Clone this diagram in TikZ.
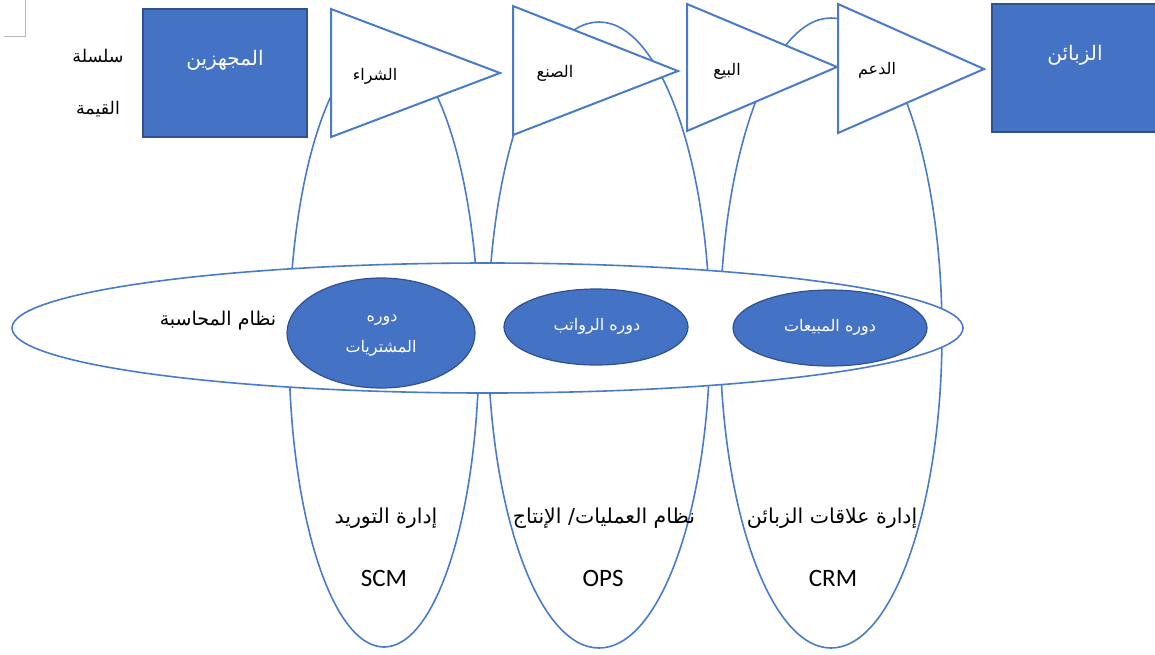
\documentclass[tikz,border=0pt]{standalone}
\usepackage{fontspec}
\setmainfont{Carlito}
\newfontfamily\arabicfont[Script=Arabic]{DejaVu Sans}
\TeXXeTstate=1
\usetikzlibrary{shapes.geometric}
\definecolor{accent}{HTML}{4472C4}
\definecolor{accentdark}{HTML}{2F528F}
\definecolor{outline}{HTML}{4A7BCB}
\definecolor{cornermark}{HTML}{B8B8B8}

\newcommand{\ar}[1]{{\arabicfont\beginR #1\endR}}

\tikzset{
  ring/.style={draw=outline, line width=1.6pt, fill=white},
  stagebox/.style={draw=outline, line width=2pt, fill=white, line join=miter},
  partybox/.style={draw=accentdark, line width=1.5pt, fill=accent},
  cyclebox/.style={draw=accentdark, line width=1.2pt, fill=accent},
  txt/.style={inner sep=0pt, font=\fontsize{19}{22}\selectfont, text=black},
  sidetxt/.style={inner sep=0pt, font=\fontsize{17.5}{20}\selectfont, text=black},
  bottomtxt/.style={inner sep=0pt, font=\fontsize{20.5}{24}\selectfont, text=black},
  stagetxt/.style={inner sep=0pt, font=\fontsize{16}{19}\selectfont, text=black},
  whitetxt/.style={inner sep=0pt, font=\fontsize{20}{23}\selectfont, text=white},
  cycletxt/.style={inner sep=0pt, font=\fontsize{16}{26}\selectfont, text=white, align=center},
  latintxt/.style={inner sep=0pt, font=\fontsize{25}{28}\selectfont, text=black}
}

\begin{document}
\begin{tikzpicture}[x=1pt, y=-1pt]
\useasboundingbox (0,0) rectangle (1155,654);

% corner mark
\draw[cornermark, line width=0.8pt] (4,36) -- (25,36) -- (25,0);

% three functional systems (tall loops)
\draw[ring] (384,346) ellipse [x radius=95pt, y radius=301pt];
\draw[ring] (599,335) ellipse [x radius=111pt, y radius=313pt];
\draw[ring] (831,333) ellipse [x radius=111pt, y radius=315pt];

% accounting system
\draw[ring] (487.5,328) ellipse [x radius=475.5pt, y radius=65pt];

% value chain stages
\draw[stagebox] (331,9) -- (500,73) -- (331,137) -- cycle;
\draw[stagebox] (513,6) -- (678,71) -- (513,135) -- cycle;
\draw[stagebox] (687,4) -- (837,67) -- (687,131) -- cycle;
\draw[stagebox] (838,4) -- (984,69) -- (838,133) -- cycle;

% suppliers and customers
\draw[partybox] (143,9) rectangle (307,137);
\draw[partybox] (992,4) rectangle (1162,132);

% accounting cycles
\draw[cyclebox] (381,333) ellipse [x radius=94pt, y radius=55pt];
\draw[cyclebox] (596,327) ellipse [x radius=92pt, y radius=38pt];
\draw[cyclebox] (830,328) ellipse [x radius=97pt, y radius=38pt];

% texts
\node[sidetxt] (vc1) at (98,56) {\ar{سلسلة}};
\node[sidetxt] (vc2) at (98,109) {\ar{القيمة}};
\node[whitetxt] (sup) at (225,60) {\ar{المجهزين}};
\node[whitetxt] (cus) at (1075,55) {\ar{الزبائن}};

\node[stagetxt] (s1) at (375,76) {\ar{الشراء}};
\node[stagetxt] (s2) at (555,73) {\ar{الصنع}};
\node[stagetxt] (s3) at (727,71) {\ar{البيع}};
\node[stagetxt] (s4) at (877,70) {\ar{الدعم}};

\node[txt] (acc) at (218,321) {\ar{نظام المحاسبة}};
\node[cycletxt] (c1a) at (382,320) {\ar{دوره}};
\node[cycletxt] (c1b) at (381,348) {\ar{المشتريات}};
\node[cycletxt] (c2) at (597,326) {\ar{دوره الرواتب}};
\node[cycletxt] (c3) at (830,327) {\ar{دوره المبيعات}};

\node[bottomtxt] (scm) at (386,518) {\ar{إدارة التوريد}};
\node[bottomtxt] (ops) at (604,518) {\ar{نظام العمليات/ الإنتاج}};
\node[bottomtxt] (crm) at (832,518) {\ar{إدارة علاقات الزبائن}};
\node[latintxt] (scmL) at (384,578) {SCM};
\node[latintxt] (opsL) at (603,578) {OPS};
\node[latintxt] (crmL) at (833,578) {CRM};
\end{tikzpicture}
\end{document}
